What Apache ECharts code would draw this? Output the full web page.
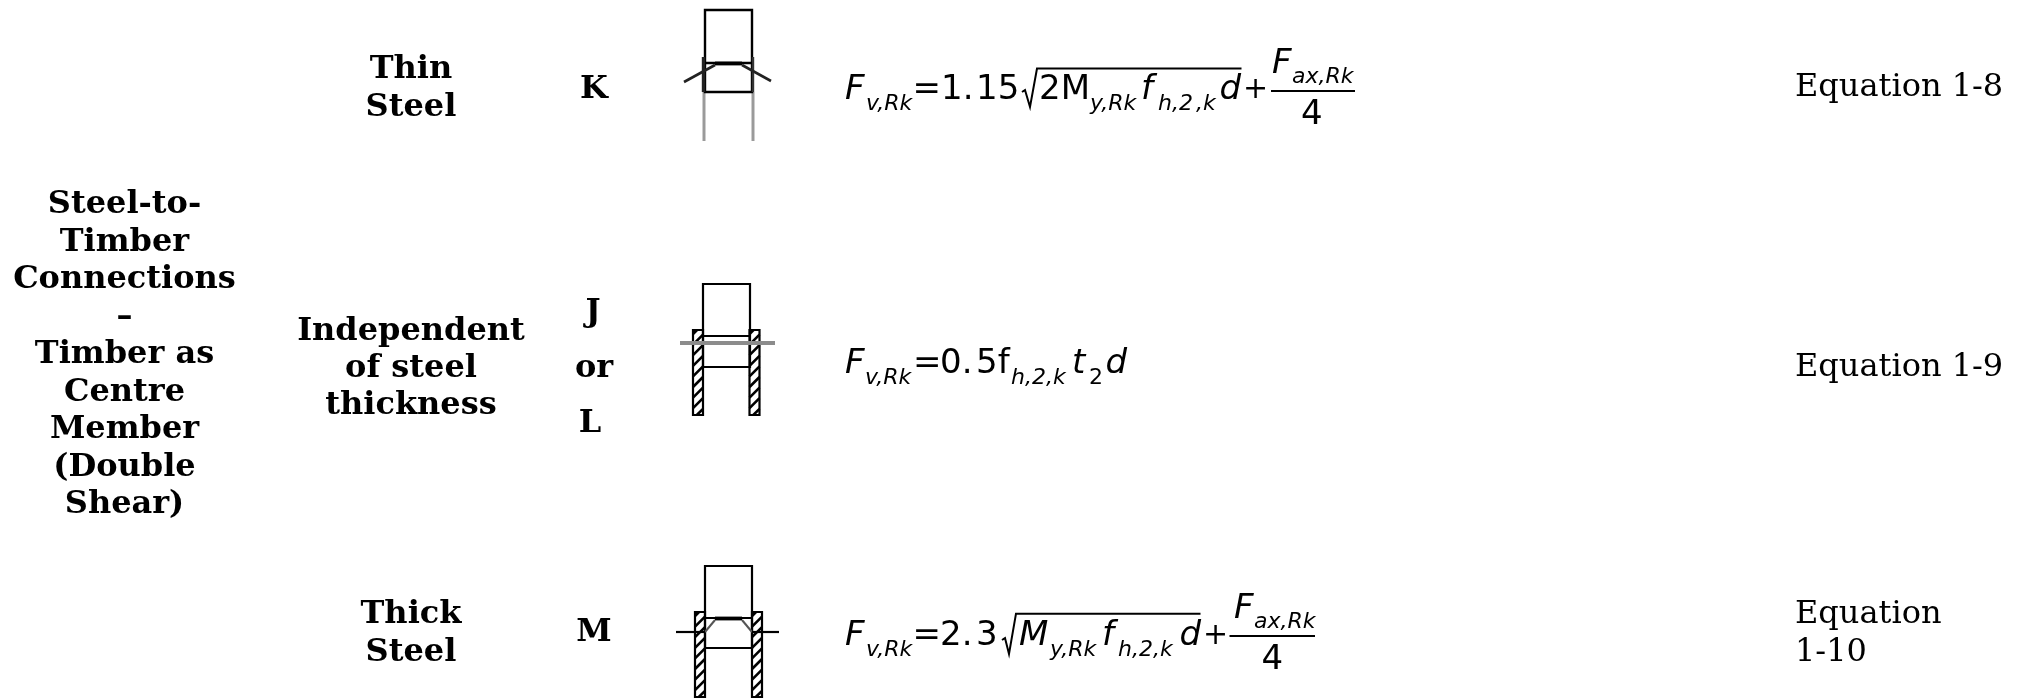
<!DOCTYPE html>
<html><head><meta charset="utf-8">
<style>html,body{margin:0;padding:0;background:#fff}#c{width:2029px;height:699px}</style>
<script src="https://cdn.jsdelivr.net/npm/echarts@6/dist/echarts.min.js"></script>
</head><body><div id="c"></div>
<script>
// ---- content ----
const groupLines = ['Steel-to-','Timber','Connections','–','Timber as','Centre','Member','(Double','Shear)'];
const thicknessLabels = [['Thin','Steel'],['Independent','of steel','thickness'],['Thick','Steel']];
const modeLabels = [['K'],['J','or','L'],['M']];
const equationLabels = [['Equation 1-8'],['Equation 1-9'],['Equation','1-10']];

// ---- layout (pixels) ----
const serif = '"DejaVu Serif"', sans = '"DejaVu Sans"';
const LH = 37.5, TXT = 32, D = 3;
const els = [];
function label(t, x, cy, size, bold, align){
  els.push({type:'text', silent:true, style:{text:t, x, y:cy+D, font:(bold?'bold ':'')+size+'px '+serif, fill:'#000', textAlign:align||'center', textVerticalAlign:'middle'}});
}
groupLines.forEach((t,i)=>label(t,124.5,202+i*LH,TXT,true));
[[67,105],[329,366,403],[612,650]].forEach((ys,r)=>thicknessLabels[r].forEach((t,i)=>label(t,411,ys[i],TXT,true)));
[[[594,87]],[[593,310],[594,366],[590,421]],[[594,630]]].forEach((ps,r)=>modeLabels[r].forEach((t,i)=>label(t,ps[i][0],ps[i][1],TXT,true)));
[[85],[365],[612,650]].forEach((ys,r)=>equationLabels[r].forEach((t,i)=>label(t,1795,ys[i],TXT,false,'left')));

function run(t,x,base,size,italic){
  els.push({type:'text', silent:true, style:{text:t, x, y:base-0.29*size, font:(italic?'italic ':'')+size+'px '+sans, fill:'#000', textAlign:'left', textVerticalAlign:'middle'}});
}
function seg(x1,y1,x2,y2,w,c){
  els.push({type:'line', silent:true, shape:{x1,y1,x2,y2}, style:{stroke:c||'#000', lineWidth:w||2}});
}
function poly(pts,w,c){
  els.push({type:'polyline', silent:true, shape:{points:pts}, style:{stroke:c||'#000', lineWidth:w||1.5, fill:null}});
}
function box(x,y,w,h,lw){
  els.push({type:'rect', silent:true, shape:{x,y,width:w,height:h}, style:{stroke:'#000', lineWidth:lw||2, fill:'none'}});
}
const B=34, S=22, P=30;
// equation 1
run('F',845,100,B,true); run('v,Rk',866,110.5,S,true); run('=',912.5,100,B);
run('1.',941,100,B); run('15',976,100,B);
poly([[1022,92],[1025,90],[1030,107],[1037,68.5],[1241.5,68.5]],2);
run('2M',1039,100,B); run('y,Rk',1090,110.5,S,true); run('f',1141,100,B,true);
run('h,2',1158,110.5,S,true); run(',k',1196,110.5,S,true); run('d',1219.5,100,B,true);
run('+',1243,99,P);
seg(1271,91,1355,91,2);
run('F',1272,74,B,true); run('ax,Rk',1292,84,S,true); run('4',1301,124.7,B);
// equation 2
run('F',845,374.5,B,true); run('v,Rk',865,384.5,S,true); run('=',913,374.5,B);
run('0.',940,374.5,B); run('5f',976,374.5,B); run('h,2,k',1011,384.5,S,true);
run('t',1072,374.5,B,true); run('2',1089,384.5,S); run('d',1105.5,374.5,B,true);
// equation 3
run('F',845,646,B,true); run('v,Rk',866,656.4,S,true); run('=',912.5,646,B);
run('2.',940,646,B); run('3',976,646,B);
poly([[1002,640],[1005,638],[1009,654],[1016,613.7],[1200.5,613.7]],2);
run('M',1019,646,B,true); run('y,Rk',1050,656.4,S,true); run('f',1102,646,B,true);
run('h,2,k',1118,656.4,S,true); run('d',1179.5,646,B,true);
run('+',1203,645,P);
seg(1229.5,636,1315,636,2);
run('F',1234,619,B,true); run('ax,Rk',1254,629,S,true); run('4',1261.5,669.6,B);

// ---- sketches ----
function plate(x,y,w,h){
  const per=10.6, lw=2.6;
  // diagonal hatch rising to the right, clipped to plate
  for(let y0=y+4; y0<y+h+w; y0+=per){
    let x1=x, y1=y0, x2=x+w, y2=y0-w;
    if(y1>y+h){ x1=x+(y1-(y+h)); y1=y+h; }
    if(y2<y){ x2=x+(y0-y); y2=y; }
    if(x1<x2) seg(x1,y1,x2,y2,lw);
  }
  box(x,y,w,h,2.2);
}
// K: thin steel
seg(704,92,704,141,3,'#9a9a9a'); seg(753,92,753,141,3,'#9a9a9a');
box(705,10,47,82,2.4);
seg(703.5,57,703.5,92,3.4,'#222'); seg(753,57,753,92,2.4,'#333');
seg(705,63,752,63,2.4); seg(715,63.5,742,63.5,3.8);
seg(684,82,715,65,2.6,'#222'); seg(742,65,771,81,2.6,'#222');
// J/L: independent
plate(693,330,10,85); plate(749.5,330,10,85);
box(703,284,47,83,2.2); seg(703,336,750,336,2.2);
seg(680,343,775,343,4,'#8c8c8c');
// M: thick steel
plate(695,612,10,85); plate(752,612,10,85);
box(705,566,47,82,2.2); seg(715,618.5,742,618.5,3.8); seg(705,618,752,618,2.2);
seg(715,620,705,632,2,'#555'); seg(742,620,752,632,2,'#555');
seg(676,632,705,632,2.2); seg(752,632,779,632,2.2);

const chart = echarts.init(document.getElementById('c'),null,{renderer:'canvas'});
chart.setOption({animation:false, backgroundColor:'#fff', graphic:{elements:els}});
</script></body></html>
